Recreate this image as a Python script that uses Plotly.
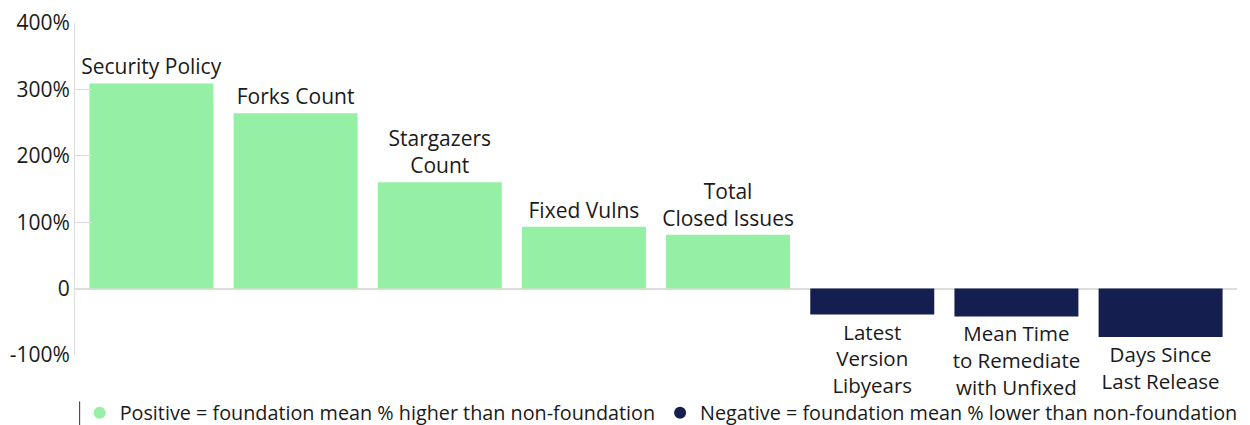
import plotly.graph_objects as go

categories = ["Security Policy", "Forks Count", "Stargazers Count", "Fixed Vulns",
              "Total Closed Issues", "Latest Version Libyears",
              "Mean Time to Remediate with Unfixed", "Days Since Last Release"]
bar_labels = ["Security Policy", "Forks Count", "Stargazers<br>Count", "Fixed Vulns",
              "Total<br>Closed Issues", "Latest<br>Version<br>Libyears",
              "Mean Time<br>to Remediate<br>with Unfixed", "Days Since<br>Last Release"]
values = [309, 264, 160, 93, 81, -39, -42, -73]
tick_vals = [-100, 0, 100, 200, 300, 400]
tick_text = ["-100%", "0", "100%", "200%", "300%", "400%"]
legend_names = ["Positive = foundation mean % higher than non-foundation",
                "Negative = foundation mean % lower than non-foundation"]

GREEN = "#95EFA5"
NAVY = "#141E4F"
FONT = "Open Sans, sans-serif"

pos_vals = [v if v >= 0 else None for v in values]
neg_vals = [v if v < 0 else None for v in values]
pos_text = [t if v >= 0 else "" for t, v in zip(bar_labels, values)]
neg_text = [t if v < 0 else "" for t, v in zip(bar_labels, values)]

fig = go.Figure()
fig.add_trace(go.Bar(x=categories, y=pos_vals, text=pos_text, textposition="outside",
                     marker=dict(color=GREEN, line=dict(width=0)), showlegend=False,
                     cliponaxis=False, constraintext="none",
                     textfont=dict(size=21, color="#1a1a1a", family=FONT)))
fig.add_trace(go.Bar(x=categories, y=neg_vals, text=neg_text, textposition="outside",
                     marker=dict(color=NAVY, line=dict(width=0)), showlegend=False,
                     cliponaxis=False, constraintext="none",
                     textfont=dict(size=20.5, color="#1a1a1a", family=FONT)))
fig.add_trace(go.Scatter(x=[None], y=[None], mode="markers", name=legend_names[0],
                         marker=dict(color=GREEN, size=20, symbol="circle")))
fig.add_trace(go.Scatter(x=[None], y=[None], mode="markers", name=legend_names[1],
                         marker=dict(color=NAVY, size=20, symbol="circle")))

fig.update_layout(
    width=1250, height=425,
    margin=dict(l=67, r=21, t=15, b=78, autoexpand=False),
    barmode="overlay", bargap=0.14,
    plot_bgcolor="white", paper_bgcolor="white",
    font=dict(family=FONT, color="#1a1a1a"),
    legend=dict(orientation="h", x=0.004, xanchor="left", y=-0.174, yanchor="middle",
                bgcolor="rgba(0,0,0,0)",
                font=dict(size=19.8, color="#1a1a1a"), itemsizing="constant"),
    xaxis=dict(range=[-0.53, 7.53], showticklabels=False, showgrid=False,
               showline=False, ticks="", type="category", automargin=False),
    yaxis=dict(range=[-100, 400], tickvals=tick_vals, ticktext=tick_text,
               showgrid=False, showline=True, linecolor="#dddddd", linewidth=1,
               ticks="inside", ticklen=17, tickcolor="#dddddd", automargin=False,
               ticklabeloverflow="allow",
               zeroline=True, zerolinecolor="#dddddd", zerolinewidth=1.5,
               tickfont=dict(size=21, color="#1a1a1a")),
    shapes=[dict(type="line", xref="paper", yref="paper", x0=0.004, x1=0.004,
                 y0=-0.14, y1=-0.24, line=dict(color="#333333", width=1))],
)

fig.write_html("out.html")
